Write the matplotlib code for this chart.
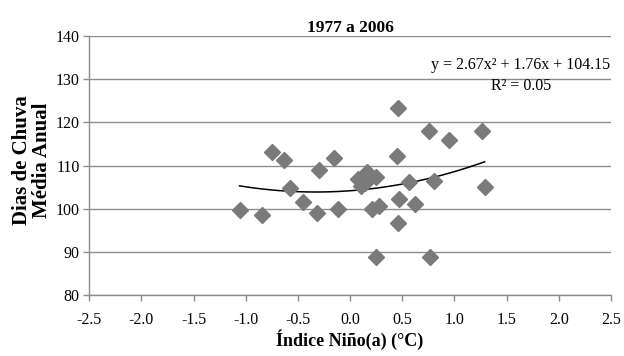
import numpy as np
import matplotlib
matplotlib.use('Agg')
import matplotlib.pyplot as plt

# Índice Niño(a) e dias de chuva
nino = [-1.06, -0.84, -0.75, -0.63, -0.58, -0.45, -0.32, -0.30, -0.15, -0.12,
        0.08, 0.16, 0.25, 0.10, 0.14, 0.46, 0.76, 0.95, 1.26, 0.45,
        0.56, 0.80, 1.29, 0.47, 0.62, 0.21, 0.28, 0.46, 0.25, 0.77]
dias = [99.7, 98.6, 113.2, 111.3, 104.9, 101.5, 99.0, 109.0, 111.7, 100.0,
        106.8, 108.4, 107.4, 105.3, 105.9, 123.3, 118.0, 116.0, 118.0, 112.2,
        106.1, 106.5, 105.1, 102.2, 101.1, 99.9, 100.6, 96.6, 88.9, 88.9]

# coeficientes da linha de tendência (polinomial de 2ª ordem)
coef = [2.67, 1.76, 104.15]

xticks = [-2.5, -2.0, -1.5, -1.0, -0.5, 0.0, 0.5, 1.0, 1.5, 2.0, 2.5]
yticks = [80, 90, 100, 110, 120, 130, 140]

plt.rcParams['font.family'] = ['Liberation Serif', 'DejaVu Serif']

fig = plt.figure(figsize=(6.24, 3.56), dpi=100)
ax = fig.add_axes([0.1431, 0.1713, 0.8359, 0.7276])

ax.plot(nino, dias, 'D', color='#7a7a7a', ms=8, zorder=3)

xx = np.linspace(min(nino), max(nino), 200)
yy = np.polyval(coef, xx)
ax.plot(xx, yy, color='black', lw=1.1, zorder=2)

ax.set_xlim(-2.5, 2.5)
ax.set_ylim(80, 140)
ax.set_xticks(xticks)
ax.set_xticklabels(['%.1f' % t for t in xticks])
ax.set_yticks(yticks)
ax.tick_params(labelsize=11.5, length=4, color='#8c8c8c', width=1, pad=3)
ax.tick_params(axis='x', pad=8)
ax.yaxis.grid(True, color='#8c8c8c', lw=1)
ax.set_axisbelow(True)
for s in ['top', 'right']:
    ax.spines[s].set_visible(False)
for s in ['left', 'bottom']:
    ax.spines[s].set_color('#8c8c8c')
    ax.spines[s].set_linewidth(1)

ax.set_title('1977 a 2006', fontsize=12.5, fontweight='bold', pad=3)
ax.set_xlabel('Índice Niño(a) (°C)', fontsize=13, fontweight='bold', labelpad=1)
ax.set_ylabel('Dias de Chuva\nMédia Anual', fontsize=15, fontweight='bold',
              linespacing=1.0)
ax.yaxis.set_label_coords(-0.071, 0.521)

ax.text(0.8275, 0.888, 'y = 2.67x² + 1.76x + 104.15', transform=ax.transAxes,
        ha='center', va='center', fontsize=11.5)
ax.text(0.8275, 0.807, 'R² = 0.05', transform=ax.transAxes,
        ha='center', va='center', fontsize=11.5)

fig.savefig('out.png', dpi=100)
